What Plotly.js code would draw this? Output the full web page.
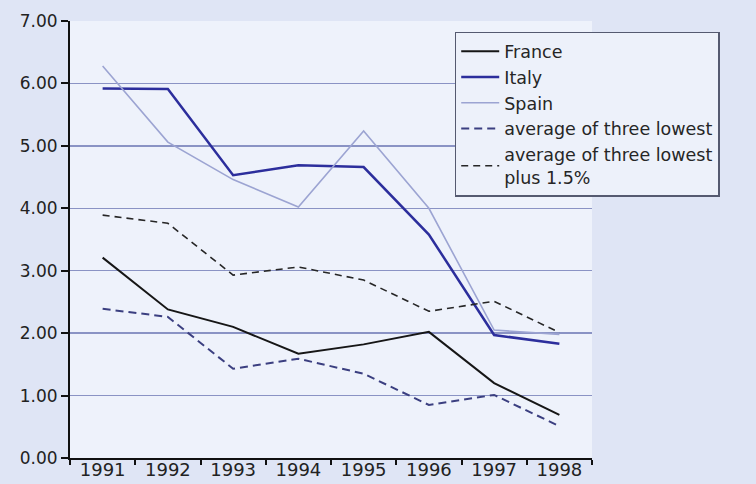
<!DOCTYPE html>
<html>
<head>
<meta charset="utf-8">
<script src="https://cdn.plot.ly/plotly-3.0.1.min.js"></script>
<style>
  html, body { margin: 0; padding: 0; background: #dfe5f5; }
  #chart { width: 756px; height: 484px; }
</style>
</head>
<body>
<div id="chart"></div>
<script>
const years = ['1991', '1992', '1993', '1994', '1995', '1996', '1997', '1998'];
const france = [3.21, 2.38, 2.10, 1.67, 1.82, 2.02, 1.20, 0.69];
const italy = [5.92, 5.91, 4.53, 4.69, 4.66, 3.58, 1.97, 1.83];
const spain = [6.28, 5.06, 4.46, 4.02, 5.24, 4.00, 2.05, 1.98];
const avgThreeLowest = [2.39, 2.26, 1.43, 1.59, 1.35, 0.85, 1.01, 0.51];
const avgThreeLowestPlus = [3.89, 3.76, 2.93, 3.06, 2.85, 2.35, 2.51, 2.01];
const yTickVals = [0, 1, 2, 3, 4, 5, 6, 7];
const yTickText = ['0.00', '1.00', '2.00', '3.00', '4.00', '5.00', '6.00', '7.00'];

const traces = [
  { x: years, y: france, name: 'France', type: 'scatter', mode: 'lines',
    line: { color: '#161616', width: 2 } },
  { x: years, y: italy, name: 'Italy', type: 'scatter', mode: 'lines',
    line: { color: '#2c2e9c', width: 2.5 } },
  { x: years, y: spain, name: 'Spain', type: 'scatter', mode: 'lines',
    line: { color: '#9ca4d2', width: 1.6 } },
  { x: years, y: avgThreeLowest, name: 'average of three lowest', type: 'scatter', mode: 'lines',
    line: { color: '#3b3f80', width: 2, dash: '8px,5px' } },
  { x: years, y: avgThreeLowestPlus, name: 'average of three lowest<br>plus 1.5%', type: 'scatter', mode: 'lines',
    line: { color: '#262626', width: 1.6, dash: '7px,5px' } }
];

const layout = {
  width: 756,
  height: 484,
  margin: { l: 70, r: 164, t: 21, b: 26, autoexpand: false },
  paper_bgcolor: '#dfe5f5',
  plot_bgcolor: '#eef2fb',
  font: { family: 'DejaVu Sans, sans-serif', color: '#262626' },
  showlegend: true,
  legend: {
    x: 0.737, xanchor: 'left', y: 0.975, yanchor: 'top',
    bgcolor: '#edf1fa', bordercolor: '#555a70', borderwidth: 1.5,
    font: { family: 'DejaVu Sans, sans-serif', size: 17.5, color: '#262626' },
    itemwidth: 38, tracegroupgap: 0
  },
  xaxis: {
    type: 'category',
    range: [-0.5, 7.5],
    tickson: 'boundaries',
    ticks: 'outside', ticklen: 5, tickwidth: 2, tickcolor: '#111',
    showline: true, linecolor: '#111', linewidth: 2,
    showgrid: false, zeroline: false,
    tickfont: { family: 'DejaVu Sans, sans-serif', size: 18, color: '#222' },
    ticklabelstandoff: -6
  },
  yaxis: {
    range: [0, 7],
    tickvals: yTickVals, ticktext: yTickText,
    ticks: 'outside', ticklen: 7, tickwidth: 2, tickcolor: '#111',
    showline: true, linecolor: '#111', linewidth: 2,
    showgrid: true, gridcolor: '#8a93c4', gridwidth: 1.5,
    zeroline: false,
    tickfont: { family: 'DejaVu Sans, sans-serif', size: 17, color: '#222' }
  }
};

Plotly.newPlot('chart', traces, layout, { displayModeBar: false, staticPlot: true });
</script>
</body>
</html>
